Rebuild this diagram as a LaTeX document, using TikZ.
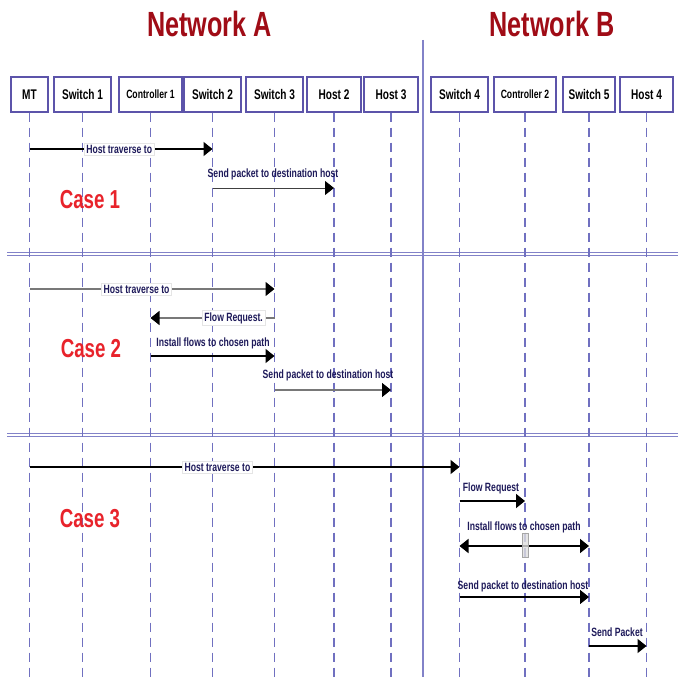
\documentclass[tikz,border=0pt]{standalone}
\usepackage{fontspec}
\usepackage{graphicx}
\setmainfont{Liberation Sans}
\usetikzlibrary{arrows.meta}
\definecolor{boxc}{RGB}{92,84,170}
\definecolor{lifec}{RGB}{112,112,192}
\definecolor{sepc}{RGB}{130,130,200}
\definecolor{labc}{RGB}{30,26,90}
\definecolor{casec}{RGB}{232,35,43}
\definecolor{netc}{RGB}{160,12,22}
\definecolor{msgg}{RGB}{120,120,120}
\newcommand{\nrw}[1]{\scalebox{0.72}[1]{#1}}
\tikzset{
  box/.style={draw=boxc, line width=1.3pt, fill=white, minimum height=35, inner sep=0pt,
    font=\fontsize{14}{16}\selectfont\bfseries},
  cbox/.style={box, font=\fontsize{12}{14}\selectfont\bfseries},
  lifeline/.style={draw=lifec, line width=1.4pt, dash pattern=on 9pt off 6pt},
  sepline/.style={draw=sepc, line width=1pt},
  tip/.style={-{Triangle[length=9pt,width=14pt,color=black,fill=black]}},
  msgk/.style={draw=black, line width=1.7pt, tip},
  msgg/.style={draw=msgg, line width=1.5pt, tip},
  msgt/.style={draw=black!75, line width=1pt, tip},
  inlab/.style={fill=white, draw=black!10, line width=0.4pt, inner sep=2pt, text=labc,
    font=\fontsize{12}{14}\selectfont\bfseries},
  toplab/.style={inner sep=0pt, text=labc, font=\fontsize{12}{14}\selectfont\bfseries},
  caselab/.style={text=casec, inner sep=0pt, font=\fontsize{26}{30}\selectfont\bfseries},
  netlab/.style={text=netc, inner sep=0pt, font=\fontsize{35}{40}\selectfont\bfseries},
}
\begin{document}
\begin{tikzpicture}[x=1pt,y=-1pt]
\useasboundingbox (0,0) rectangle (678,677);
\fill[white] (0,0) rectangle (678,677);

% titles
\node[netlab] (neta) at (209.5,23.5) {\nrw{Network A}};
\node[netlab] (netb) at (552,23.5) {\nrw{Network B}};

% separators
\coordinate (vtop) at (423,40);
\coordinate (vbot) at (423,677);
\draw[draw=sepc, line width=2pt] (vtop) -- (vbot);
\coordinate (h1a) at (7,252.5); \coordinate (h1b) at (678,252.5);
\coordinate (h2a) at (7,255.5); \coordinate (h2b) at (678,255.5);
\coordinate (h3a) at (7,433); \coordinate (h3b) at (678,433);
\coordinate (h4a) at (7,436); \coordinate (h4b) at (678,436);
\draw[sepline] (h1a) -- (h1b);
\draw[sepline] (h2a) -- (h2b);
\draw[sepline] (h3a) -- (h3b);
\draw[sepline] (h4a) -- (h4b);

% participant boxes
\node[box, minimum width=37] (mt)  at (29.5,94.5) {\nrw{MT}};
\node[box, minimum width=57] (sw1) at (82.5,94.5) {\nrw{Switch 1}};
\node[cbox, minimum width=63] (c1) at (150.5,94.5) {\nrw{Controller 1}};
\node[box, minimum width=57] (sw2) at (212.5,94.5) {\nrw{Switch 2}};
\node[box, minimum width=57] (sw3) at (274.5,94.5) {\nrw{Switch 3}};
\node[box, minimum width=54] (h2)  at (334,94.5) {\nrw{Host 2}};
\node[box, minimum width=54] (h3)  at (391,94.5) {\nrw{Host 3}};
\node[box, minimum width=57] (sw4) at (459.5,94.5) {\nrw{Switch 4}};
\node[cbox, minimum width=62] (c2) at (525,94.5) {\nrw{Controller 2}};
\node[box, minimum width=52] (sw5) at (589,94.5) {\nrw{Switch 5}};
\node[box, minimum width=53] (h4)  at (646.5,94.5) {\nrw{Host 4}};

% lifelines
\foreach \p in {mt,sw1,c1,sw2,sw3,h2,h3,sw4,c2,sw5,h4}{
  \draw[lifeline] (\p.south) -- (\p |- 0,677);
}

% Case 1
\node[caselab] (case1) at (90,200) {\nrw{Case 1}};
\draw[msgk] (mt |- 0,149) -- node[inlab, pos=0.49] (l11) {\nrw{Host traverse to}} (sw2 |- 0,149);
\draw[msgt] (sw2 |- 0,188) -- (h2 |- 0,188);
\node[toplab] (l12) at (273,174) {\nrw{Send packet to destination host}};

% Case 2
\node[caselab] (case2) at (91,349) {\nrw{Case 2}};
\draw[msgg] (mt |- 0,289) -- node[inlab, pos=0.437] (l21) {\nrw{Host traverse to}} (sw3 |- 0,289);
\draw[msgg] (sw3 |- 0,318) -- node[inlab, pos=0.33] (l22) {\nrw{Flow Request.}} (c1 |- 0,318);
\draw[msgk] (c1 |- 0,356) -- (sw3 |- 0,356);
\node[toplab] (l23) at (213,343) {\nrw{Install flows to chosen path}};
\draw[msgg] (sw3 |- 0,390) -- (h3 |- 0,390);
\node[toplab] (l24) at (328,375) {\nrw{Send packet to destination host}};

% Case 3
\node[caselab] (case3) at (90,519) {\nrw{Case 3}};
\draw[msgk] (mt |- 0,467) -- node[inlab, pos=0.437] (l31) {\nrw{Host traverse to}} (sw4 |- 0,467);
\draw[msgk] (sw4 |- 0,501) -- (c2 |- 0,501);
\node[toplab] (l32) at (491,488) {\nrw{Flow Request}};
\draw[draw=black, line width=1.7pt, {Triangle[length=9pt,width=14pt]}-{Triangle[length=9pt,width=14pt]}] (sw4 |- 0,546) -- (sw5 |- 0,546);
\node[draw=gray!70, fill=gray!25, fill opacity=0.8, line width=0.8pt, minimum width=6, minimum height=24, inner sep=0pt] (act) at (c2 |- 0,545) {};
\node[toplab] (l33) at (524,527) {\nrw{Install flows to chosen path}};
\draw[msgk, line width=1.3pt] (sw4 |- 0,597) -- (sw5 |- 0,597);
\node[toplab] (l34) at (523,586) {\nrw{Send packet to destination host}};
\draw[msgk] (sw5 |- 0,646) -- (h4 |- 0,646);
\node[toplab] (l35) at (617,632) {\nrw{Send Packet}};
\end{tikzpicture}
\end{document}
